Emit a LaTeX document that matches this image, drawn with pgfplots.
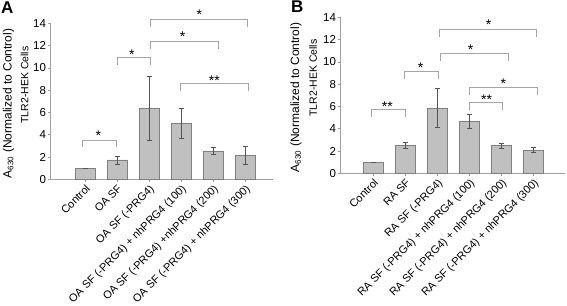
\documentclass[border=0pt]{standalone}
\usepackage{pgfplots}
\pgfplotsset{compat=1.18}
\usepackage{fontspec}
\setmainfont{Liberation Sans}
\definecolor{barfill}{HTML}{C0C0C0}
\definecolor{bardraw}{HTML}{808080}
\definecolor{errcol}{HTML}{555555}
\definecolor{axisgray}{HTML}{A0A0A0}
\definecolor{brk}{HTML}{A6A6A6}
\begin{document}
\begin{tikzpicture}
\useasboundingbox (0pt,0pt) rectangle (567pt,305pt);
\pgfplotsset{
  panel/.style={
    scale only axis, height=156pt,
    ymin=0, ymax=14, ytick={0,2,...,14},
    xtick={0,...,5},
    axis x line*=bottom, axis y line*=left,
    axis line style={color=axisgray, line width=0.7pt},
    tick style={color=axisgray, line width=0.7pt},
    tick align=outside, major tick length=3pt,
    clip=false,
    /pgf/number format/assume math mode=true,
    yticklabel style={font=\fontsize{11.5}{12}\selectfont, inner sep=1.5pt},
    xticklabel style={font=\fontsize{11}{12}\selectfont, rotate=45, anchor=north east, inner sep=1pt},
  },
  bars/.style={ybar, bar width=20pt, fill=barfill, draw=bardraw, line width=0.6pt,
    error bars/.cd, y dir=both, y explicit,
    error bar style={color=errcol, line width=0.6pt},
    error mark options={rotate=90, mark size=2.5pt, color=errcol, line width=0.6pt}},
  brkt/.style={color=brk, line width=0.7pt, mark=none, forget plot},
}
\tikzset{star/.style={font=\fontsize{14}{14}\selectfont, anchor=base, yshift=-8pt, inner sep=0pt}}

% Panel A
\begin{axis}[panel, at={(50.7pt,125.7pt)}, anchor=south west, width=222.6pt,
  xmin=-1.072, xmax=5.884,
  xticklabels={Control, OA SF, OA SF (-PRG4), OA SF (-PRG4) + nhPRG4 (100), OA SF (-PRG4) +nhPRG4 (200), OA SF (-PRG4) + nhPRG4 (300)}]
\addplot[bars] coordinates {
  (0,1.00) +- (0,0.03)
  (1,1.74) +- (0,0.36)
  (2,6.37) +- (0,2.84)
  (3,5.03) +- (0,1.33)
  (4,2.54) +- (0,0.34)
  (5,2.18) +- (0,0.80)
};
\addplot[brkt] coordinates {(-0.07,2.93) (-0.07,3.53) (0.99,3.53) (0.99,2.93)};
\addplot[brkt] coordinates {(1.00,10.26) (1.00,10.95) (2.05,10.95) (2.05,10.26)};
\addplot[brkt] coordinates {(2.05,11.67) (2.05,12.35) (4.17,12.35) (4.17,11.67)};
\addplot[brkt] coordinates {(2.03,13.70) (2.03,14.39) (5.07,14.39) (5.07,13.70)};
\addplot[brkt] coordinates {(2.97,7.95) (2.97,8.62) (5.10,8.62) (5.10,7.95)};
\node[star] at (axis cs:0.42,4.16) {*};
\node[star] at (axis cs:1.46,11.45) {*};
\node[star] at (axis cs:3.05,13.10) {*};
\node[star] at (axis cs:3.57,15.05) {*};
\node[star] at (axis cs:4.04,9.15) {**};
\end{axis}

% Panel B
\begin{axis}[panel, at={(340.7pt,131.7pt)}, anchor=south west, width=224.3pt,
  xmin=-1.019, xmax=5.99,
  xticklabels={Control, RA SF, RA SF (-PRG4), RA SF (-PRG4) + nhPRG4 (100), RA SF (-PRG4) + nhPRG4 (200), RA SF (-PRG4) + nhPRG4 (300)}]
\addplot[bars] coordinates {
  (0,1.00) +- (0,0.03)
  (1,2.50) +- (0,0.26)
  (2,5.85) +- (0,1.75)
  (3,4.65) +- (0,0.60)
  (4,2.48) +- (0,0.20)
  (5,2.08) +- (0,0.22)
};
\addplot[brkt] coordinates {(-0.05,5.08) (-0.05,5.77) (0.99,5.77) (0.99,5.08)};
\addplot[brkt] coordinates {(0.97,8.46) (0.97,9.18) (2.03,9.18) (2.03,8.46)};
\addplot[brkt] coordinates {(2.10,10.08) (2.10,10.77) (4.22,10.77) (4.22,10.08)};
\addplot[brkt] coordinates {(2.06,12.27) (2.06,12.95) (5.08,12.95) (5.08,12.27)};
\addplot[brkt] coordinates {(3.00,7.03) (3.00,7.72) (5.14,7.72) (5.14,7.03)};
\addplot[brkt] coordinates {(3.00,5.68) (3.00,6.34) (4.04,6.34) (4.04,5.68)};
\node[star] at (axis cs:0.44,6.30) {**};
\node[star] at (axis cs:1.48,9.80) {*};
\node[star] at (axis cs:3.04,11.40) {*};
\node[star] at (axis cs:3.60,13.60) {*};
\node[star] at (axis cs:4.06,8.30) {*};
\node[star] at (axis cs:3.54,6.88) {**};
\end{axis}

% axis titles and panel letters
\node[rotate=90, font=\fontsize{12}{13}\selectfont, inner sep=0pt] at (8.5pt,201.5pt) {A\textsubscript{630} (Normalized to Control)};
\node[rotate=90, font=\fontsize{10.5}{12}\selectfont, inner sep=0pt] at (24.5pt,220pt) {TLR2-HEK Cells};
\node[rotate=90, font=\fontsize{12}{13}\selectfont, inner sep=0pt] at (296pt,207.5pt) {A\textsubscript{630} (Normalized to Control)};
\node[rotate=90, font=\fontsize{10.5}{12}\selectfont, inner sep=0pt] at (313pt,227pt) {TLR2-HEK Cells};
\node[font=\fontsize{17}{17}\selectfont\bfseries, anchor=north west, inner sep=0pt] at (1pt,303pt) {A};
\node[font=\fontsize{17}{17}\selectfont\bfseries, anchor=north west, inner sep=0pt] at (291pt,304pt) {B};
\end{tikzpicture}
\end{document}
